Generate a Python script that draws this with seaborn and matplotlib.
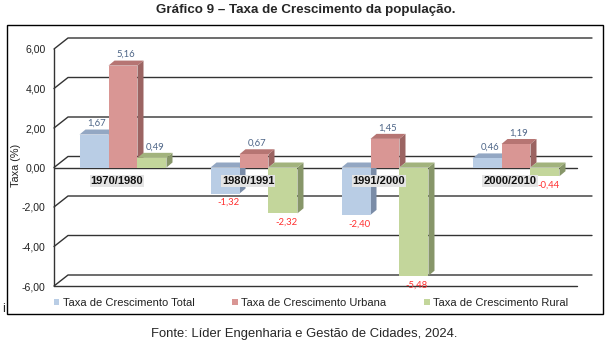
import numpy as np
import pandas as pd
import seaborn as sns
import matplotlib
matplotlib.use("Agg")
import matplotlib.pyplot as plt
from matplotlib.patches import Polygon, Rectangle, Patch
from matplotlib.lines import Line2D

# ---------------- data ----------------
periodos = ["1970/1980", "1980/1991", "1991/2000", "2000/2010"]
series = ["Taxa de Crescimento Total", "Taxa de Crescimento Urbana", "Taxa de Crescimento Rural"]
taxa_total = [1.67, -1.32, -2.40, 0.46]
taxa_urbana = [5.16, 0.67, 1.45, 1.19]
taxa_rural = [0.49, -2.32, -5.48, -0.44]
y_ticks = [-6, -4, -2, 0, 2, 4, 6]

titulo = "Gráfico 9 – Taxa de Crescimento da população."
fonte = "Fonte: Líder Engenharia e Gestão de Cidades, 2024."

df = pd.DataFrame({
    "Periodo": periodos * 3,
    "Serie": [series[0]] * 4 + [series[1]] * 4 + [series[2]] * 4,
    "Taxa": taxa_total + taxa_urbana + taxa_rural,
})

front_c = ["#B9CDE5", "#D99694", "#C3D69B"]
top_c = ["#93A7C3", "#B67573", "#A2B37D"]
side_c = ["#7A8CA7", "#9B6462", "#879669"]

sns.set_theme(style="white")
plt.rcParams["font.family"] = ["Liberation Sans", "DejaVu Sans"]

W, H = 616, 346
fig = plt.figure(figsize=(W / 100, H / 100), dpi=100)

# layout in pixels
L_PX, R_PX, T_PX, B_PX = 54, 577, 49, 286
G0_PX, GSTEP_PX = 123, 131
BACK_END_PX = 592
ax = fig.add_axes([L_PX / W, 1 - B_PX / H, (R_PX - L_PX) / W, (B_PX - T_PX) / H])

xlim = ((L_PX - G0_PX) / GSTEP_PX, (R_PX - G0_PX) / GSTEP_PX)

sns.barplot(data=df, x="Periodo", y="Taxa", hue="Serie", order=periodos,
            hue_order=series, palette=front_c, saturation=1, width=0.664,
            errorbar=None, legend=False, ax=ax)
ax.set_xlim(*xlim)
ax.set_ylim(-6, 6)

px_x = (xlim[1] - xlim[0]) / (R_PX - L_PX)   # data units per px (x)
px_y = 12.0 / (B_PX - T_PX)                   # data units per px (y)

# back wall gridlines
grid_c = "#333333"
wdx, wdy = 14 * px_x, 11 * px_y
x_back_end = (BACK_END_PX - G0_PX) / GSTEP_PX
for v in y_ticks:
    ax.add_line(Line2D([xlim[0], xlim[0] + wdx, x_back_end], [v, v + wdy, v + wdy],
                       color=grid_c, lw=1.0, clip_on=False, zorder=1))
# front floor lines and axis
for v in [0, -6]:
    ax.add_line(Line2D([xlim[0], xlim[1]], [v, v], color=grid_c, lw=1.0,
                       clip_on=False, zorder=1.5))
ax.add_line(Line2D([xlim[0], xlim[0]], [-6, 6], color=grid_c, lw=1.0,
                   clip_on=False, zorder=1.5))

# 3D faces for bars
bdx, bdy = 6 * px_x, 5 * px_y
vals_by_series = [taxa_total, taxa_urbana, taxa_rural]
for si, cont in enumerate(ax.containers):
    for ci, bar in enumerate(cont):
        x0 = bar.get_x()
        w = bar.get_width()
        x1 = x0 + w
        y = bar.get_y()
        h = bar.get_height()
        yb, yt = min(y, y + h), max(y, y + h)
        z = 3 + 0.01 * (ci * 3 + si)
        bar.set_zorder(z + 0.002)
        bar.set_linewidth(0)
        side = Polygon([(x1, yb), (x1, yt), (x1 + bdx, yt + bdy), (x1 + bdx, yb + bdy)],
                       closed=True, fc=side_c[si], ec="none", zorder=z)
        top = Polygon([(x0, yt), (x1, yt), (x1 + bdx, yt + bdy), (x0 + bdx, yt + bdy)],
                      closed=True, fc=top_c[si], ec="none", zorder=z + 0.001)
        ax.add_patch(side)
        ax.add_patch(top)
        v = vals_by_series[si][ci]
        lab = f"{v:.2f}".replace(".", ",")
        cx = x0 + w / 2
        if v >= 0:
            ax.text(cx + bdx / 2, yt + bdy + 6 * px_y, lab, ha="center", va="center",
                    fontsize=6.8, color="#4d6587", family=["Lato", "DejaVu Sans"], zorder=6)
        else:
            ax.text(cx + bdx / 2, yb - 9 * px_y, lab, ha="center", va="center",
                    fontsize=6.8, color="#ff3030", family=["Lato", "DejaVu Sans"], zorder=6)

# category labels
for i, p in enumerate(periodos):
    ax.text(i - 6 / GSTEP_PX, -13.5 * px_y, p, ha="center", va="center",
            fontsize=8, fontweight="bold", color="#111111", zorder=8,
            bbox=dict(boxstyle="square,pad=0.1", fc="#e4e4e4", ec="none"))

# axes styling
for s in ax.spines.values():
    s.set_visible(False)
ax.set_xticks([])
ax.set_yticks(y_ticks)
ax.set_yticklabels([f"{t:.2f}".replace(".", ",") for t in y_ticks])
ax.tick_params(axis="y", length=0, pad=6, labelsize=7.6, labelcolor="#222222")
ax.set_xlabel("")
ax.set_ylabel("")
ax.patch.set_alpha(0)

fig.text(16 / W, 1 - 165 / H, "Taxa (%)", rotation=90, ha="center", va="center",
         fontsize=7.8, color="#222222")

# legend
handles = [Patch(fc=c, ec="none") for c in front_c]
fig.legend(handles, series, loc="center", bbox_to_anchor=(311 / W, 1 - 303 / H),
           ncol=3, frameon=False, fontsize=8, handlelength=0.5, handleheight=0.5,
           handletextpad=0.3, columnspacing=3.4, labelcolor="#222222")

# border
fig.add_artist(Rectangle((7 / W, 1 - 314 / H), 596 / W, 289 / H, transform=fig.transFigure,
                         fill=False, ec="black", lw=1.0))

# title and source
fig.text(306 / W, 1 - 10 / H, titulo, ha="center", va="center", fontsize=9.6,
         fontweight="bold")
fig.text(304 / W, 1 - 334 / H, fonte, ha="center", va="center", fontsize=9.4)
fig.text(4 / W, 1 - 309 / H, "i", ha="center", va="center", fontsize=9)

fig.savefig("out.png", dpi=100)
